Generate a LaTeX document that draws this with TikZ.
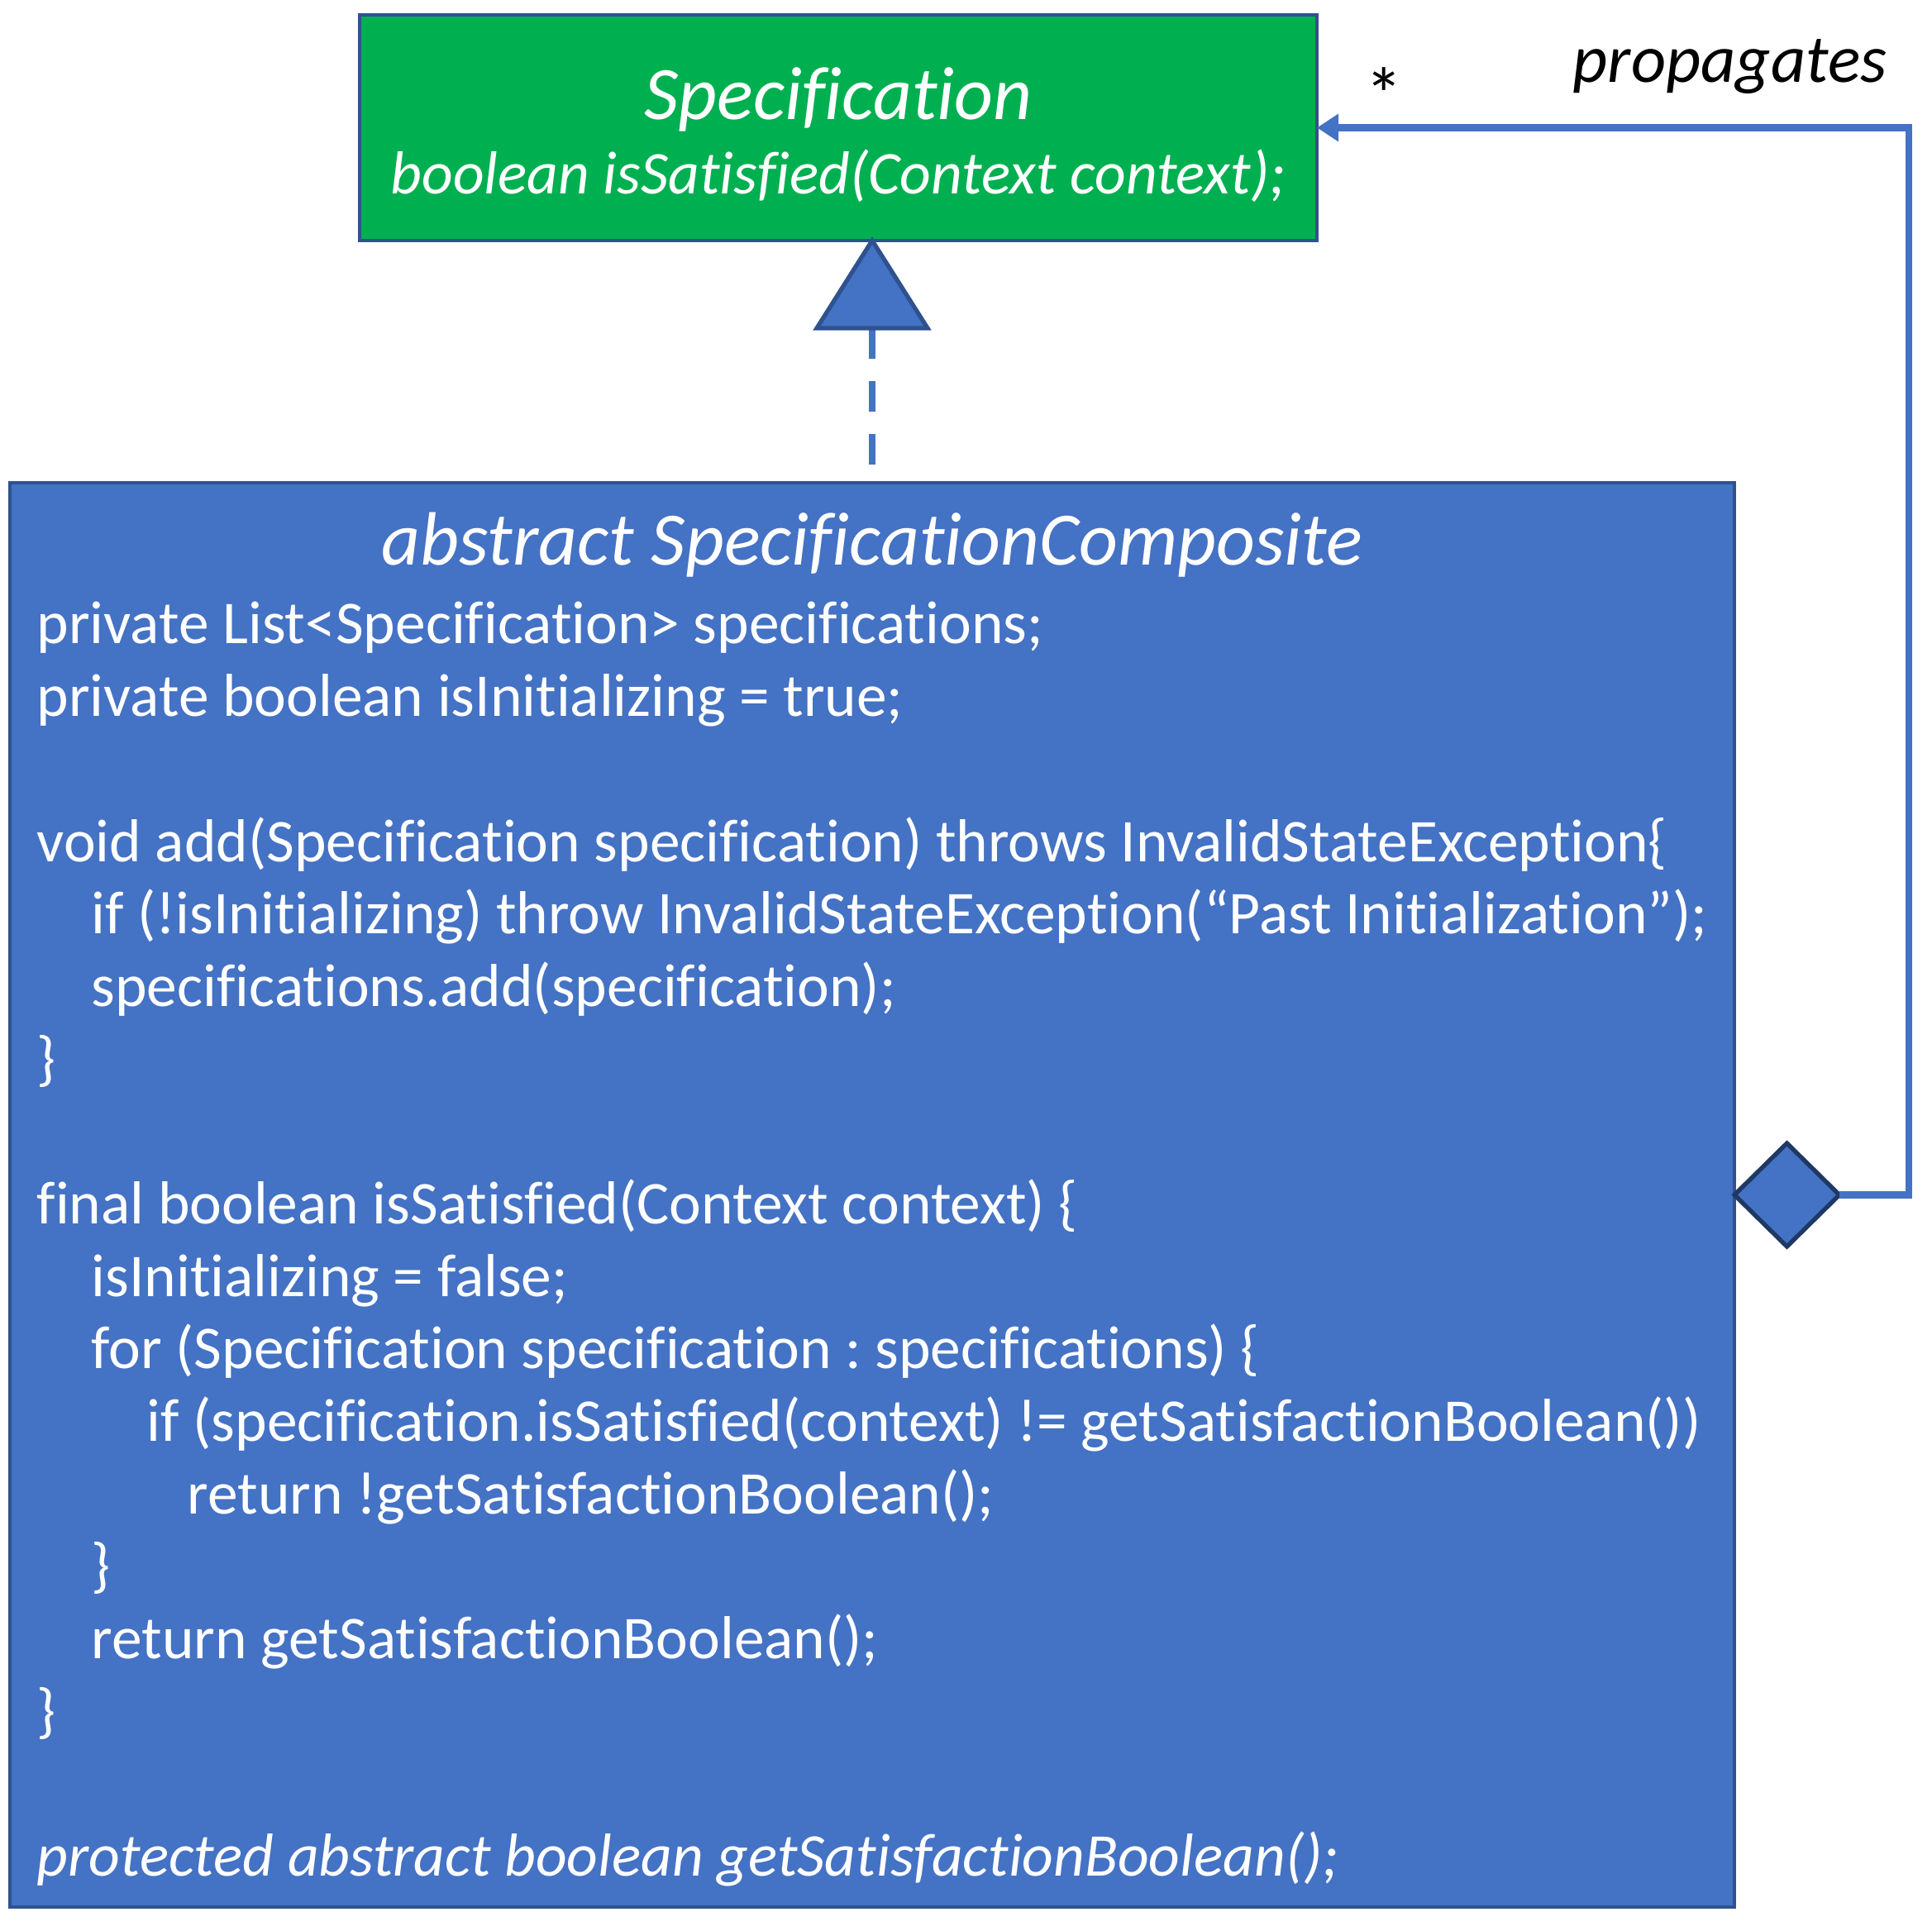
\documentclass[tikz,border=0pt]{standalone}
\usepackage{fontspec}
\setmainfont{Carlito}[Ligatures={NoCommon,NoRequired,NoContextual}]
\usetikzlibrary{arrows.meta,positioning,shapes.geometric}
\definecolor{SpecGreen}{RGB}{0,176,80}
\definecolor{CompBlue}{RGB}{68,114,196}
\definecolor{EdgeBlue}{RGB}{47,82,143}
\definecolor{DeepNavy}{RGB}{31,56,100}
\newcommand{\codefont}{\fontsize{20.9}{24.95}\selectfont}
\newcommand{\headfont}{\fontsize{26}{30}\selectfont\itshape}
\newcommand{\ind}[1]{\hspace*{#1cm}}
\frenchspacing

\begin{document}
\begin{tikzpicture}[>=Latex,
  classbox/.style={draw=EdgeBlue,line width=1.4pt,outer sep=0pt,inner sep=0pt,anchor=north west},
  headtext/.style={text=white,font=\headfont,inner sep=0pt,anchor=base},
  codetext/.style={text=white,font=\codefont,inner sep=0pt,align=left},
  link/.style={CompBlue,line width=2.3pt}]
  \useasboundingbox (0,0) rectangle (23.37,-23.36);
  % interface
  \node[classbox,fill=SpecGreen,minimum width=11.58cm,minimum height=2.73cm] (spec) at (4.35,-0.18) {};
  \node[headtext] (spectitle) at ([yshift=-1.27cm]spec.north) {Specification};
  \node[codetext,anchor=base,font=\codefont\itshape] (specmethod) at ([yshift=-2.17cm]spec.north) {boolean isSatisfied(Context context);};
  % composite class
  \node[classbox,fill=CompBlue,minimum width=20.86cm,minimum height=17.23cm] (comp) at (0.12,-5.84) {};
  \node[headtext] (comptitle) at ([yshift=-1.0cm]comp.north) {abstract SpecificationComposite};
  \node[codetext,anchor=north west] (compcode) at ([xshift=0.32cm,yshift=-1.38cm]comp.north west) {%
    \rule{0pt}{16pt}private List<Specification> specifications;\\
    private boolean isInitializing = true;\\[24.95pt]
    void add(Specification specification) throws InvalidStateException\{\\
    \ind{0.66}if (!isInitializing) throw InvalidStateException(“Past Initialization”);\\
    \ind{0.66}specifications.add(specification);\\
    \}\\[24.95pt]
    final boolean isSatisfied(Context context) \{\\
    \ind{0.66}isInitializing = false;\\
    \ind{0.66}for (Specification specification : specifications) \{\\
    \ind{1.33}if (specification.isSatisfied(context) != getSatisfactionBoolean())\\
    \ind{1.82}return !getSatisfactionBoolean();\\
    \ind{0.66}\}\\
    \ind{0.66}return getSatisfactionBoolean();\\
    \}\\[24.95pt]
    \textit{protected abstract boolean getSatisfactionBoolean();}};
  % realization
  \coordinate (tip) at (comp.north |- spec.south);
  \coordinate (tribase) at ([yshift=-1.06cm]tip);
  \draw[link,dash pattern=on 0.37cm off 0.27cm] (tribase) -- (comp.north);
  \draw[draw=EdgeBlue,fill=CompBlue,line width=1.5pt] (tip) -- ++(-0.67,-1.06) -- ++(1.34,0) -- cycle;
  % aggregation
  \node[diamond,draw=DeepNavy,fill=CompBlue,line width=1.5pt,minimum width=1.27cm,minimum height=1.25cm,inner sep=0pt,outer sep=0pt,anchor=west] (agg) at (comp.east) {};
  \coordinate (turn) at ([xshift=0.84cm]agg.east);
  \draw[link,-{Triangle[length=0.26cm,width=0.32cm]}] (agg.east) -- (turn) |- (spec.east);
  \node[font=\fontsize{26}{30}\selectfont,inner sep=0pt] (mult) at ([xshift=0.81cm,yshift=0.40cm]spec.east) {*};
  \node[font=\fontsize{23.4}{28}\selectfont\itshape,inner sep=0pt,anchor=base east] (proplabel) at (22.83,-1.0) {propagates};
\end{tikzpicture}
\end{document}
